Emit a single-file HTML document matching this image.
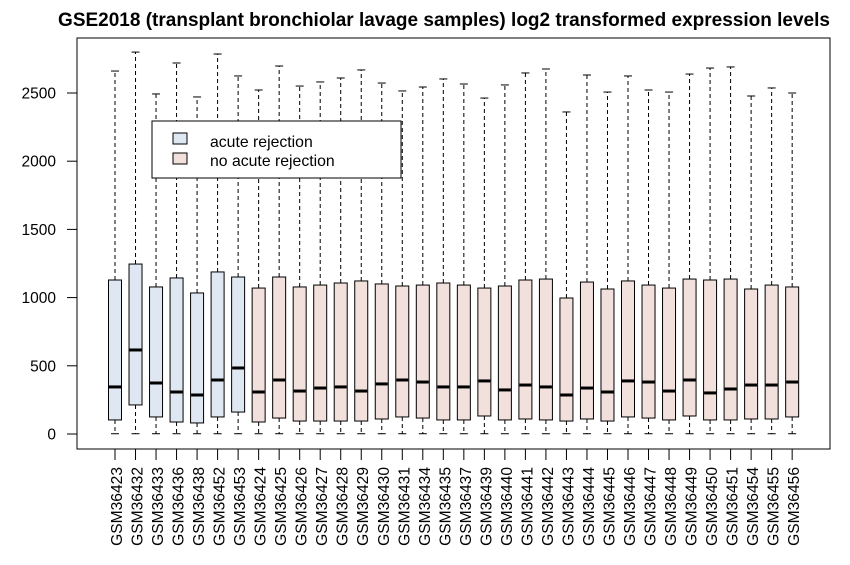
<!DOCTYPE html>
<html><head><meta charset="utf-8"><style>body{margin:0;background:#fff}svg{display:block;font-family:"Liberation Sans",sans-serif}</style></head>
<body>
<svg id="chart" width="850" height="565">
<text x="444" y="26" text-anchor="middle" font-weight="bold" font-size="19">GSE2018 (transplant bronchiolar lavage samples) log2 transformed expression levels</text>
<rect x="77" y="38" width="753" height="411" fill="none" stroke="#000"/>
<g id="yaxis"></g>
<g id="boxes"></g>
<g id="xaxis"></g>
<g>
<rect x="152" y="121" width="249" height="57" fill="#fff" stroke="#000"/>
<rect x="173" y="133" width="14" height="11" fill="#dfe8f2" stroke="#000"/>
<text x="210" y="147" font-size="15.8">acute rejection</text>
<rect x="173" y="153" width="14" height="11" fill="#f2e0dc" stroke="#000"/>
<text x="210" y="166" font-size="15.8">no acute rejection</text>
</g>
</svg>
<script>
const samples=["GSM36423","GSM36432","GSM36433","GSM36436","GSM36438","GSM36452","GSM36453","GSM36424","GSM36425","GSM36426","GSM36427","GSM36428","GSM36429","GSM36430","GSM36431","GSM36434","GSM36435","GSM36437","GSM36439","GSM36440","GSM36441","GSM36442","GSM36443","GSM36444","GSM36445","GSM36446","GSM36447","GSM36448","GSM36449","GSM36450","GSM36451","GSM36454","GSM36455","GSM36456"];
const groups=[1,1,1,1,1,1,1,0,0,0,0,0,0,0,0,0,0,0,0,0,0,0,0,0,0,0,0,0,0,0,0,0,0,0];
const whiskerHigh=[2661,2800,2493,2720,2471,2786,2625,2522,2698,2551,2581,2610,2669,2573,2515,2544,2603,2566,2463,2559,2647,2676,2361,2632,2507,2625,2522,2507,2639,2683,2691,2478,2537,2500];
const q3=[1129,1246,1078,1144,1034,1188,1151,1070,1151,1078,1092,1107,1122,1100,1085,1092,1107,1092,1070,1085,1129,1136,997,1114,1063,1122,1092,1070,1136,1129,1136,1063,1092,1078];
const medians=[345,616,374,308,286,396,484,308,396,315,337,345,315,367,396,381,345,345,389,323,359,345,286,337,308,389,381,315,396,301,330,359,359,381];
const q1=[103,213,125,88,81,125,161,88,117,95,95,95,95,110,125,117,103,103,132,103,110,103,95,110,95,125,117,103,132,103,103,110,110,125];
const whiskerLow=[2,2,2,2,2,2,2,2,2,2,2,2,2,2,2,2,2,2,2,2,2,2,2,2,2,2,2,2,2,2,2,2,2,2];
const yTicks=[0,500,1000,1500,2000,2500];
const NS="http://www.w3.org/2000/svg";
const y=v=>434-v*0.1364;
const x=i=>115+i*20.52;
function mk(t,a,p){const e=document.createElementNS(NS,t);for(const k in a)e.setAttribute(k,a[k]);p.appendChild(e);return e;}
const ya=document.getElementById('yaxis');
yTicks.forEach(t=>{mk('line',{x1:67,x2:77,y1:y(t),y2:y(t),stroke:'#000'},ya);
const tx=mk('text',{x:56,y:y(t)+5.5,'text-anchor':'end','font-size':15.5},ya);tx.textContent=t;

});
const bx=document.getElementById('boxes'),xa=document.getElementById('xaxis');
samples.forEach((s,i)=>{
const cx=x(i),g=mk('g',{},bx);


mk('line',{x1:cx,x2:cx,y1:y(q3[i]),y2:y(whiskerHigh[i]),stroke:'#000','stroke-dasharray':'4,3'},g);
mk('line',{x1:cx,x2:cx,y1:y(q1[i]),y2:y(whiskerLow[i]),stroke:'#000','stroke-dasharray':'4,3'},g);
mk('line',{x1:cx-4,x2:cx+4,y1:y(whiskerHigh[i]),y2:y(whiskerHigh[i]),stroke:'#000'},g);
mk('line',{x1:cx-4,x2:cx+4,y1:y(whiskerLow[i]),y2:y(whiskerLow[i]),stroke:'#000'},g);
mk('rect',{x:cx-6.5,y:y(q3[i]),width:13,height:y(q1[i])-y(q3[i]),fill:groups[i]?'#dfe8f2':'#f2e0dc',stroke:'#000'},g);
mk('line',{x1:cx-6,x2:cx+6,y1:y(medians[i]),y2:y(medians[i]),stroke:'#000','stroke-width':3},g);
mk('line',{x1:cx,x2:cx,y1:449,y2:460,stroke:'#000'},xa);
const t=mk('text',{x:0,y:0,'text-anchor':'end','font-size':15.6,transform:`translate(${cx+7},467) rotate(-90)`},xa);
t.textContent=s;


});
</script>
</body></html>
